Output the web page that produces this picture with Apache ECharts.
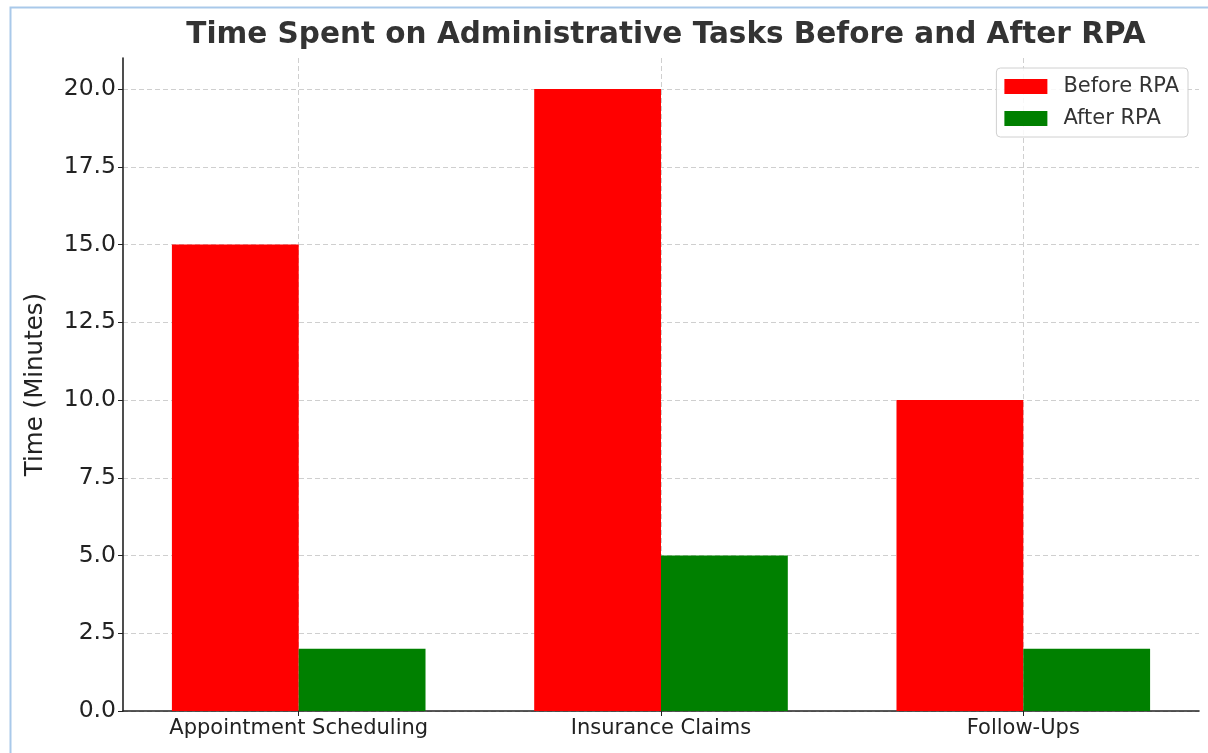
<!DOCTYPE html>
<html>
<head>
<meta charset="utf-8">
<script src="https://cdn.jsdelivr.net/npm/echarts@6/dist/echarts.min.js"></script>
<style>html,body{margin:0;padding:0;background:#fff;}#c{width:1208px;height:753px;}</style>
</head>
<body>
<div id="c"></div>
<script>
const categories = ['Appointment Scheduling', 'Insurance Claims', 'Follow-Ups'];
const beforeRPA = [15, 20, 10];
const afterRPA = [2, 5, 2];
const yTicks = [0, 2.5, 5, 7.5, 10, 12.5, 15, 17.5, 20];
const xTicks = categories.map((c, i) => i);

const chart = echarts.init(document.getElementById('c'), null, {renderer: 'canvas'});
const font = 'DejaVu Sans';
const gridLine = {show: true, lineStyle: {color: '#cfcfcf', type: [5, 3], width: 1}};
chart.setOption({
  animation: false,
  backgroundColor: '#fff',
  graphic: [{
    type: 'rect', left: 8, top: 5, z: 100,
    shape: {width: 1400, height: 1000},
    style: {fill: 'none', stroke: '#a9c9ea', lineWidth: 2}
  }],
  title: {
    text: 'Time Spent on Administrative Tasks Before and After RPA',
    left: 661, top: 15, textAlign: 'center',
    textStyle: {fontFamily: font, fontWeight: 'bold', fontSize: 29.5, color: '#333'}
  },
  legend: {
    orient: 'vertical', right: 20, top: 68,
    itemWidth: 43, itemHeight: 15, itemGap: 11,
    padding: [8, 9, 8, 8],
    icon: 'rect',
    borderColor: '#d0d0d0', borderWidth: 1, borderRadius: 4,
    backgroundColor: 'rgba(255,255,255,0.85)',
    textStyle: {fontFamily: font, fontSize: 21, color: '#333', padding: [0, 0, 0, 11]},
    data: ['Before RPA', 'After RPA']
  },
  grid: {left: 123, right: 9, top: 58, bottom: 42, containLabel: false},
  xAxis: {
    type: 'value', min: -0.485, max: 2.485,
    axisLine: {show: true, onZero: false, lineStyle: {color: '#222', width: 1.6}},
    axisTick: {show: true, length: 5, lineStyle: {color: '#222'}, customValues: xTicks},
    axisLabel: {fontFamily: font, fontSize: 21, color: '#222', margin: 7, customValues: xTicks,
      formatter: v => categories[Math.round(v)] || ''},
    splitLine: gridLine
  },
  yAxis: {
    type: 'value', min: 0, max: 21,
    name: 'Time (Minutes)', nameLocation: 'middle', nameGap: 75,
    nameTextStyle: {fontFamily: font, fontSize: 24.5, color: '#222'},
    axisLine: {show: true, onZero: false, lineStyle: {color: '#222', width: 1.6}},
    axisTick: {show: true, length: 5, lineStyle: {color: '#222'}, customValues: yTicks},
    axisLabel: {fontFamily: font, fontSize: 23.5, color: '#222', margin: 7, customValues: yTicks,
      formatter: v => v.toFixed(1)},
    splitLine: gridLine
  },
  series: [
    {name: 'Before RPA', type: 'bar', data: beforeRPA.map((v, i) => [i, v]), barWidth: '35%', barGap: '0%',
     itemStyle: {color: '#ff0000'}},
    {name: 'After RPA', type: 'bar', data: afterRPA.map((v, i) => [i, v]), barWidth: '35%', barGap: '0%',
     itemStyle: {color: '#008000'}}
  ]
});
</script>
</body>
</html>
